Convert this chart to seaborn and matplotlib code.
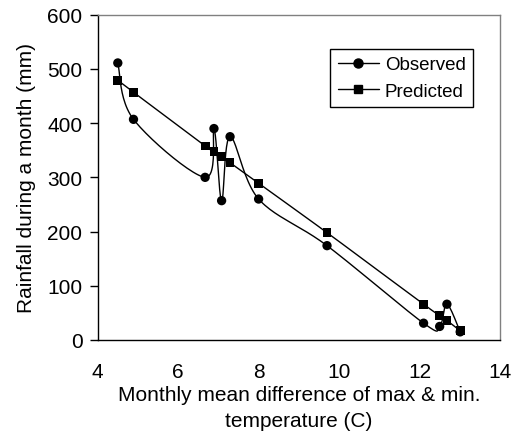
import numpy as np
import pandas as pd
import matplotlib
matplotlib.use("Agg")
import matplotlib.pyplot as plt
import seaborn as sns
from matplotlib.lines import Line2D

# valores
temp_diff = [4.50, 4.89, 6.67, 6.89, 7.08, 7.29, 8.00, 9.70, 12.10, 12.50, 12.68, 13.01]
observed = [511, 407, 300, 390, 257, 375, 260, 174, 31, 25, 66, 15]
predicted = [479, 457, 358, 347, 338, 327, 289, 198, 66, 45, 36, 17]

x_ticks = [4, 6, 8, 10, 12, 14]
y_ticks = [0, 100, 200, 300, 400, 500, 600]


def smooth(x, y, n=25):
    # curva suavizada tipo Excel (Bezier / Catmull-Rom)
    x = np.asarray(x, float)
    y = np.asarray(y, float)
    px = np.concatenate([[x[0]], x, [x[-1]]])
    py = np.concatenate([[y[0]], y, [y[-1]]])
    t = np.linspace(0, 1, n)
    xs, ys = [], []
    for i in range(1, len(px) - 2):
        p0 = np.array([px[i], py[i]])
        p3 = np.array([px[i + 1], py[i + 1]])
        c1 = p0 + (p3 - np.array([px[i - 1], py[i - 1]])) / 6
        c2 = p3 - (np.array([px[i + 2], py[i + 2]]) - p0) / 6
        b = ((1 - t) ** 3)[:, None] * p0 + (3 * (1 - t) ** 2 * t)[:, None] * c1 \
            + (3 * (1 - t) * t ** 2)[:, None] * c2 + (t ** 3)[:, None] * p3
        xs.extend(b[:, 0])
        ys.extend(b[:, 1])
    return pd.DataFrame({'x': xs, 'y': ys})


sns.set_style('white')
plt.rcParams['font.family'] = ['Liberation Sans', 'DejaVu Sans']
plt.rcParams['text.color'] = 'black'
plt.rcParams['axes.labelcolor'] = 'black'
plt.rcParams['xtick.color'] = 'black'
plt.rcParams['ytick.color'] = 'black'

fig = plt.figure(figsize=(5.12, 4.35), dpi=100)
ax = fig.add_axes([0.1908, 0.2161, 0.7858, 0.7478])

dados = pd.DataFrame({'x': temp_diff, 'obs': observed, 'pred': predicted})

curva_obs = smooth(dados['x'], dados['obs'])
curva_pred = smooth(dados['x'], dados['pred'])
sns.lineplot(data=curva_obs, x='x', y='y', sort=False, estimator=None,
             color='black', linewidth=1.0, ax=ax)
sns.lineplot(data=curva_pred, x='x', y='y', sort=False, estimator=None,
             color='black', linewidth=1.0, ax=ax)
sns.scatterplot(data=dados, x='x', y='obs', marker='o', s=45, color='black',
                edgecolor='none', ax=ax, zorder=3)
sns.scatterplot(data=dados, x='x', y='pred', marker='s', s=40, color='black',
                edgecolor='none', ax=ax, zorder=3)

ax.set_xlim(4, 14)
ax.set_ylim(0, 600)
ax.set_xticks(x_ticks)
ax.set_yticks(y_ticks)
ax.tick_params(axis='x', direction='in', length=6, width=1, pad=16, labelsize=15)
ax.tick_params(axis='y', direction='out', length=6, width=1, pad=5, labelsize=15, left=True)

for lado in ['left', 'bottom']:
    ax.spines[lado].set_color('black')
    ax.spines[lado].set_linewidth(1)
for lado in ['top', 'right']:
    ax.spines[lado].set_color('#808080')
    ax.spines[lado].set_linewidth(1)

ax.set_xlabel('Monthly mean difference of max & min.\ntemperature (C)', fontsize=15,
              labelpad=3, linespacing=1.45)
ax.set_ylabel('Rainfall during a month (mm)', fontsize=15, labelpad=8)

handles = [Line2D([], [], color='black', lw=1, marker='o', markersize=6.5),
           Line2D([], [], color='black', lw=1, marker='s', markersize=6)]
leg = ax.legend(handles, ['Observed', 'Predicted'], loc='upper right',
                bbox_to_anchor=(0.933, 0.895), borderaxespad=0, fontsize=13.5,
                frameon=True, fancybox=False, framealpha=1, edgecolor='black',
                handlelength=2.2, handletextpad=0.3, borderpad=0.4, labelspacing=0.5)
leg.get_frame().set_linewidth(1)

fig.savefig('out.png', dpi=100)
